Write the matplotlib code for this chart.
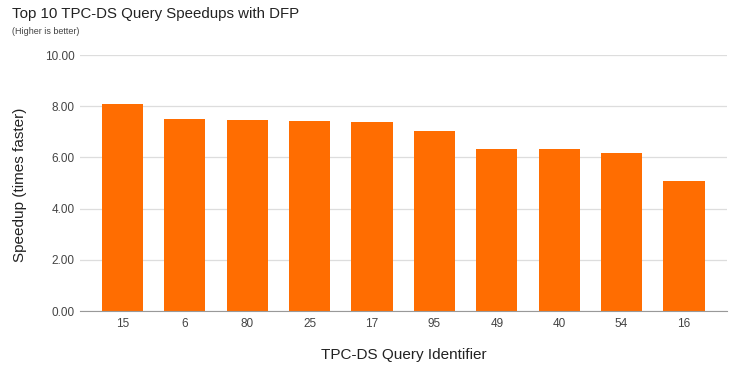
import matplotlib
matplotlib.use("Agg")
import matplotlib.pyplot as plt

queries = ["15", "6", "80", "25", "17", "95", "49", "40", "54", "16"]
speedups = [8.09, 7.50, 7.47, 7.43, 7.40, 7.03, 6.34, 6.32, 6.17, 5.07]
y_ticks = [0, 2, 4, 6, 8, 10]

plt.rcParams["font.family"] = ["Liberation Sans", "DejaVu Sans"]

fig = plt.figure(figsize=(7.39, 3.75), dpi=100, facecolor="white")
ax = fig.add_axes([80 / 739, 64 / 375, 647 / 739, 256 / 375])

x = range(len(queries))
ax.bar(x, speedups, width=0.66, color="#ff6d01", zorder=3)

ax.set_xlim(-0.68, len(queries) - 1 + 0.69)
ax.set_ylim(0, 10)
ax.set_yticks(y_ticks)
ax.set_yticklabels([f"{v:.2f}" for v in y_ticks])
ax.set_xticks(list(x))
ax.set_xticklabels(queries)
ax.tick_params(length=0, labelsize=8.5, colors="#444444", pad=5)
ax.tick_params(axis="y", pad=4)
ax.grid(axis="y", color="#dddddd", lw=0.9, zorder=0)
for side in ("top", "right", "left"):
    ax.spines[side].set_visible(False)
ax.spines["bottom"].set_color("#999999")
ax.spines["bottom"].set_zorder(4)

# axis titles placed in figure pixels to match the reference layout
fig.text(20 / 739, 1 - 185 / 375, "Speedup (times faster)", rotation=90,
         fontsize=11, color="#222222", ha="center", va="center")
fig.text(404 / 739, 1 - 355 / 375, "TPC-DS Query Identifier",
         fontsize=11, color="#222222", ha="center", va="center")

fig.text(12 / 739, 1 - 14 / 375, "Top 10 TPC-DS Query Speedups with DFP",
         fontsize=10.8, color="#222222", va="center", ha="left")
fig.text(12 / 739, 1 - 31 / 375, "(Higher is better)",
         fontsize=6.5, color="#444444", va="center", ha="left")

fig.savefig("out.png", dpi=100, facecolor="white")
